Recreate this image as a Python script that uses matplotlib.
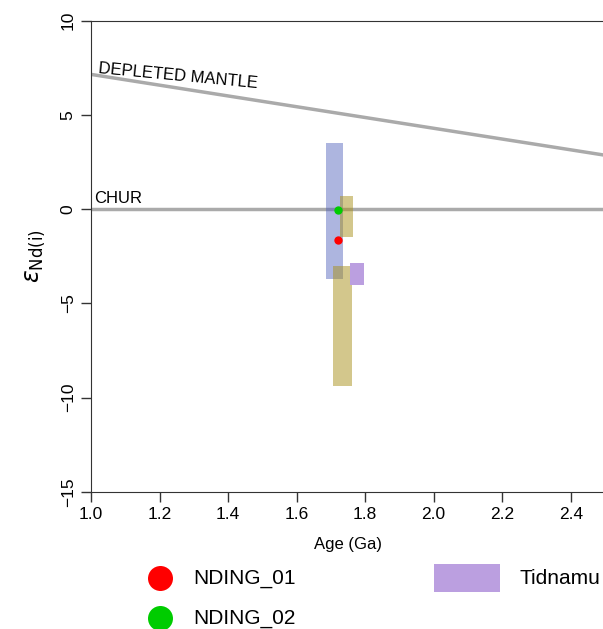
import matplotlib
matplotlib.use('Agg')
import matplotlib.pyplot as plt
from matplotlib.patches import Rectangle

plt.rcParams['font.family'] = ['Liberation Sans', 'DejaVu Sans']

# reference lines
dm_age = [0.0, 3.5]
dm_eps = [10.0, 0.0]
chur_age = [0.0, 4.0]
chur_eps = [0.0, 0.0]

# fields: (age_min, age_max, eps_min, eps_max)
field_names = ['blue', 'tan_upper', 'tan_lower', 'Tidnamu']
field_age_min = [1.685, 1.727, 1.707, 1.757]
field_age_max = [1.735, 1.766, 1.762, 1.796]
field_eps_min = [-3.7, -1.5, -9.4, -4.0]
field_eps_max = [3.5, 0.7, -3.0, -2.85]
field_colors = ['#4a5cb8', '#a8901a', '#a8901a', '#bb9fe0']
field_alpha = [0.45, 0.5, 0.5, 1.0]

# samples
sample_names = ['NDING_01', 'NDING_02']
sample_age = [1.72, 1.72]
sample_eps = [-1.62, -0.05]
sample_colors = ['#ff0000', '#00cc00']

fig = plt.figure(figsize=(6.03, 6.29), dpi=100)
ax = fig.add_axes([91 / 603, 137 / 629, 514 / 603, 471.5 / 629])

ax.plot(dm_age, dm_eps, color='#aaaaaa', lw=2.5, zorder=1)
ax.plot(chur_age, chur_eps, color='#aaaaaa', lw=2.5, zorder=1)

for a0, a1, e0, e1, c, al in zip(field_age_min, field_age_max, field_eps_min,
                                  field_eps_max, field_colors, field_alpha):
    ax.add_patch(Rectangle((a0, e0), a1 - a0, e1 - e0, facecolor=c,
                           alpha=al, edgecolor='none', zorder=2))

for a, e, c in zip(sample_age, sample_eps, sample_colors):
    ax.plot(a, e, 'o', color=c, ms=6, mec='none', zorder=3)

ax.text(1.02, 7.05, 'DEPLETED MANTLE', fontsize=12, rotation=-5.4,
        rotation_mode='anchor', ha='left', va='bottom')
ax.text(1.01, 0.15, 'CHUR', fontsize=12, ha='left', va='bottom')

ax.set_xlim(1.0, 2.5)
ax.set_ylim(-15, 10)
ax.set_xticks([1.0, 1.2, 1.4, 1.6, 1.8, 2.0, 2.2, 2.4])
ax.set_yticks([-15, -10, -5, 0, 5, 10])
ax.set_yticklabels(['\u221215', '\u221210', '\u22125', '0', '5', '10'],
                   rotation=90, va='center')
ax.tick_params(direction='out', length=7, width=1, labelsize=12.5, color='#333333')
ax.tick_params(axis='y', pad=4)
for s in ax.spines.values():
    s.set_color('#333333')
ax.spines['right'].set_visible(False)
ax.set_xlabel('Age (Ga)', fontsize=12, labelpad=11)
ax.set_ylabel(r'$\varepsilon_{\mathrm{Nd(i)}}$', fontsize=17, labelpad=10)

# legend below the plot
lg = fig.add_axes([0, 0, 1, 80 / 629])
lg.set_xlim(0, 603)
lg.set_ylim(80, 0)
lg.axis('off')
rows = [29, 69]
for name, c, yy in zip(sample_names, sample_colors, rows):
    lg.plot(160, yy, 'o', color=c, ms=18, mec='none', clip_on=False)
    lg.text(193, yy, name, fontsize=15, va='center', ha='left')
lg.add_patch(Rectangle((434, 15), 66, 28, facecolor=field_colors[3],
                       edgecolor='none'))
lg.text(520, 29, 'Tidnamu', fontsize=15, va='center', ha='left')

fig.savefig('out.png', dpi=100)
